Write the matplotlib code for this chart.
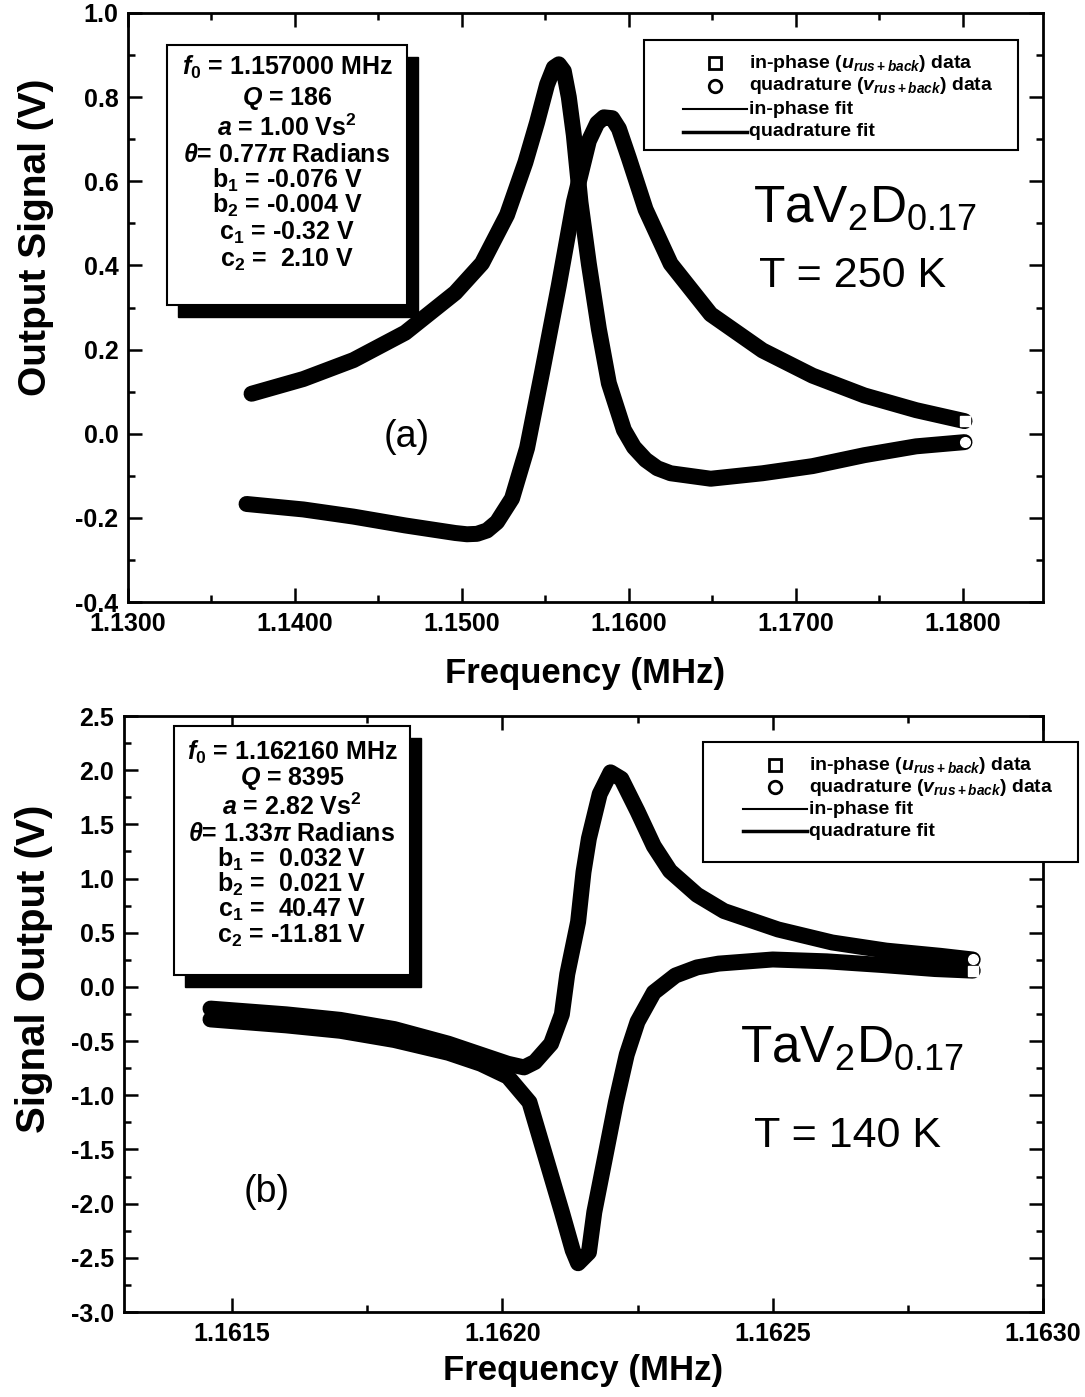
import matplotlib
matplotlib.use("Agg")
import matplotlib.pyplot as plt
from matplotlib.lines import Line2D
from matplotlib.patches import Rectangle
from matplotlib.ticker import MultipleLocator, FormatStrFormatter

plt.rcParams['font.family'] = ['Liberation Sans', 'DejaVu Sans']
plt.rcParams['font.weight'] = 'bold'
plt.rcParams['axes.labelweight'] = 'bold'
plt.rcParams['mathtext.fontset'] = 'custom'
plt.rcParams['mathtext.rm'] = 'Liberation Sans:bold'
plt.rcParams['mathtext.it'] = 'Liberation Sans:italic:bold'
plt.rcParams['mathtext.bf'] = 'Liberation Sans:bold'
plt.rcParams['axes.unicode_minus'] = False

## panel (a) : T = 250 K
f_u_a = [1.1371, 1.1405, 1.1435, 1.1466, 1.1496, 1.1503, 1.1509, 1.1515, 1.1521,
         1.1530, 1.1539, 1.1548, 1.1558, 1.1567, 1.1576, 1.1581, 1.1585, 1.1590,
         1.1594, 1.1600, 1.1610, 1.1625, 1.1649, 1.1680, 1.1710, 1.1741, 1.1772,
         1.1801]
u_a = [-0.167, -0.180, -0.197, -0.218, -0.236, -0.239, -0.238, -0.230, -0.210,
       -0.154, -0.034, 0.146, 0.352, 0.550, 0.696, 0.738, 0.752, 0.750,
       0.725, 0.655, 0.533, 0.404, 0.284, 0.198, 0.138, 0.091, 0.056,
       0.030]
f_v_a = [1.1374, 1.1405, 1.1435, 1.1466, 1.1496, 1.1512, 1.1527, 1.1538, 1.1545,
         1.1551, 1.1555, 1.1558, 1.1561, 1.1564, 1.1567, 1.1571, 1.1576, 1.1582,
         1.1588, 1.1597, 1.1603, 1.1610, 1.1617, 1.1625, 1.1649, 1.1680, 1.1710,
         1.1741, 1.1772, 1.1801]
v_a = [0.095, 0.130, 0.175, 0.240, 0.335, 0.405, 0.520, 0.645, 0.740,
       0.830, 0.870, 0.878, 0.862, 0.800, 0.710, 0.550, 0.404, 0.249,
       0.120, 0.009, -0.032, -0.062, -0.082, -0.094, -0.107, -0.094, -0.077,
       -0.051, -0.030, -0.020]

## panel (b) : T = 140 K
f_u_b = [1.16146, 1.16160, 1.16170, 1.16180, 1.16190, 1.16196, 1.16201, 1.16205,
         1.16208, 1.16211, 1.16213, 1.16214, 1.16216, 1.16217, 1.16219, 1.16221,
         1.16223, 1.16225, 1.16228, 1.16232, 1.16236, 1.16240, 1.16250, 1.16260,
         1.16270, 1.16280, 1.16287]
u_b = [-0.30, -0.355, -0.405, -0.49, -0.608, -0.709, -0.828, -1.064,
       -1.571, -2.078, -2.43, -2.55, -2.45, -2.078, -1.571, -1.064,
       -0.625, -0.321, -0.051, 0.105, 0.18, 0.215, 0.253, 0.236,
       0.203, 0.165, 0.15]
f_v_b = [1.16146, 1.16160, 1.16170, 1.16180, 1.16190, 1.16196, 1.16201, 1.16204,
         1.16206, 1.16209, 1.16211, 1.16212, 1.16214, 1.16215, 1.16216, 1.16218,
         1.16220, 1.16222, 1.16225, 1.16228, 1.16231, 1.16236, 1.16241, 1.16251,
         1.16261, 1.16271, 1.16281, 1.16287]
v_b = [-0.20, -0.253, -0.304, -0.389, -0.524, -0.625, -0.709, -0.743,
       -0.693, -0.524, -0.253, 0.118, 0.60, 1.06, 1.37, 1.78,
       1.98, 1.92, 1.62, 1.30, 1.07, 0.85, 0.70, 0.53,
       0.41, 0.335, 0.287, 0.253]

xticks_a = [1.13, 1.14, 1.15, 1.16, 1.17, 1.18]
yticks_a = [-0.4, -0.2, 0.0, 0.2, 0.4, 0.6, 0.8, 1.0]
xticks_b = [1.1615, 1.1620, 1.1625, 1.1630]
yticks_b = [-3.0, -2.5, -2.0, -1.5, -1.0, -0.5, 0.0, 0.5, 1.0, 1.5, 2.0, 2.5]

params_a = [r'$f_0$ = 1.157000 MHz', r'$Q$ = 186', r'$a$ = 1.00 Vs$^2$',
            r'$\theta$= 0.77$\pi$ Radians', r'b$_1$ = -0.076 V', r'b$_2$ = -0.004 V',
            r'c$_1$ = -0.32 V', r'c$_2$ =  2.10 V']
params_b = [r'$f_0$ = 1.162160 MHz', r'$Q$ = 8395', r'$a$ = 2.82 Vs$^2$',
            r'$\theta$= 1.33$\pi$ Radians', r'b$_1$ =  0.032 V', r'b$_2$ =  0.021 V',
            r'c$_1$ =  40.47 V', r'c$_2$ = -11.81 V']
leg_labels = [r'in-phase ($u_{rus+back}$) data', r'quadrature ($v_{rus+back}$) data',
              'in-phase fit', 'quadrature fit']

W, H = 1085, 1397
fig = plt.figure(figsize=(W / 100, H / 100), dpi=100)


def fx(px):
    return px / W


def fy(py):
    return 1 - py / H


def panel(l, t, r, b):
    return fig.add_axes([fx(l), fy(b), fx(r) - fx(l), fy(t) - fy(b)])


def style(ax, xlim, ylim, xt, yt, xmin, ymin, xfmt, yfmt):
    ax.set_xlim(*xlim)
    ax.set_ylim(*ylim)
    ax.set_xticks(xt)
    ax.set_yticks(yt)
    ax.xaxis.set_minor_locator(MultipleLocator(xmin))
    ax.yaxis.set_minor_locator(MultipleLocator(ymin))
    ax.xaxis.set_major_formatter(FormatStrFormatter(xfmt))
    ax.yaxis.set_major_formatter(FormatStrFormatter(yfmt))
    ax.tick_params(which='both', direction='in', top=True, right=True, width=1.8, labelsize=18)
    ax.tick_params(which='major', length=10, pad=7)
    ax.tick_params(which='minor', length=5)
    for s in ax.spines.values():
        s.set_linewidth(2)


def trace(ax, f, y, mk):
    ax.plot(f, y, color='k', lw=11.5, solid_capstyle='round', solid_joinstyle='round', zorder=3)
    ax.plot(f[-1:], y[-1:], ls='none', marker=mk, ms=7, mfc='white', mec='white', zorder=4)


def param_box(l, t, r, b, lines, ys):
    fig.add_artist(Rectangle((fx(l + 11), fy(b + 12)), fx(r - l), fy(t) - fy(b),
                             transform=fig.transFigure, facecolor='k', edgecolor='k', zorder=5))
    fig.add_artist(Rectangle((fx(l), fy(b)), fx(r - l), fy(t) - fy(b),
                             transform=fig.transFigure, facecolor='white', edgecolor='k',
                             lw=1.5, zorder=6))
    for s, y in zip(lines, ys):
        fig.text(fx((l + r) / 2), fy(y), s, ha='center', va='center', fontsize=18, zorder=7)


def legend_box(l, t, r, b, x0, ys):
    fig.add_artist(Rectangle((fx(l), fy(b)), fx(r - l), fy(t) - fy(b),
                             transform=fig.transFigure, facecolor='white', edgecolor='k',
                             lw=1.5, zorder=6))
    xm = x0 + 32
    fig.add_artist(Line2D([fx(xm)], [fy(ys[0])], transform=fig.transFigure, ls='none',
                          marker='s', ms=9, mfc='white', mec='k', mew=2, zorder=7))
    fig.add_artist(Line2D([fx(xm)], [fy(ys[1])], transform=fig.transFigure, ls='none',
                          marker='o', ms=9, mfc='white', mec='k', mew=2, zorder=7))
    fig.add_artist(Line2D([fx(x0), fx(x0 + 64)], [fy(ys[2])] * 2, transform=fig.transFigure,
                          color='k', lw=1.5, zorder=7))
    fig.add_artist(Line2D([fx(x0), fx(x0 + 64)], [fy(ys[3])] * 2, transform=fig.transFigure,
                          color='k', lw=2.5, zorder=7))
    for s, y in zip(leg_labels, ys):
        fig.text(fx(x0 + 66), fy(y), s, ha='left', va='center', fontsize=14, zorder=7)


# (a)
ax1 = panel(128, 13, 1043, 602)
style(ax1, (1.13, 1.1848), (-0.4, 1.0), xticks_a, yticks_a, 0.005, 0.1, '%.4f', '%.1f')
trace(ax1, f_u_a, u_a, 's')
trace(ax1, f_v_a, v_a, 'o')
ax1.set_xlabel('Frequency (MHz)', fontsize=25)
ax1.set_ylabel('Output Signal (V)', fontsize=28)
ax1.xaxis.set_label_coords(0.5, -0.094)
ax1.yaxis.set_label_coords(-0.081, 0.62)
ax1.text(0.305, 0.28, '(a)', transform=ax1.transAxes, fontsize=27, weight='normal',
         ha='center', va='center')
fig.text(fx(865), fy(222), r'TaV$_\mathregular{2}$D$_\mathregular{0.17}$', fontsize=37,
         weight='normal', ha='center', va='baseline')
fig.text(fx(853), fy(276), 'T = 250 K', fontsize=31, weight='normal', ha='center', va='center')
param_box(167, 45, 407, 305, params_a, [67, 98, 128, 155, 180, 205, 233, 260])
legend_box(644, 40, 1018, 150, 683, [63, 86, 109, 132])

# (b)
ax2 = panel(124, 716, 1043, 1312)
style(ax2, (1.1613, 1.1630), (-3.0, 2.5), xticks_b, yticks_b, 0.00025, 0.25, '%.4f', '%.1f')
trace(ax2, f_u_b, u_b, 's')
trace(ax2, f_v_b, v_b, 'o')
ax2.set_xlabel('Frequency (MHz)', fontsize=25)
ax2.set_ylabel('Signal Output (V)', fontsize=29)
ax2.xaxis.set_label_coords(0.5, -0.07)
ax2.yaxis.set_label_coords(-0.077, 0.575)
ax2.text(fx(267), fy(1192), '(b)', transform=fig.transFigure, fontsize=27, weight='normal',
         ha='center', va='center')
fig.text(fx(852), fy(1062), r'TaV$_\mathregular{2}$D$_\mathregular{0.17}$', fontsize=37,
         weight='normal', ha='center', va='baseline')
fig.text(fx(848), fy(1136), 'T = 140 K', fontsize=31, weight='normal', ha='center', va='center')
param_box(174, 726, 410, 975, params_b, [752, 778, 807, 834, 859, 884, 910, 936])
legend_box(703, 742, 1078, 862, 743, [765, 787, 809, 831])

fig.savefig('out.png', dpi=100)
